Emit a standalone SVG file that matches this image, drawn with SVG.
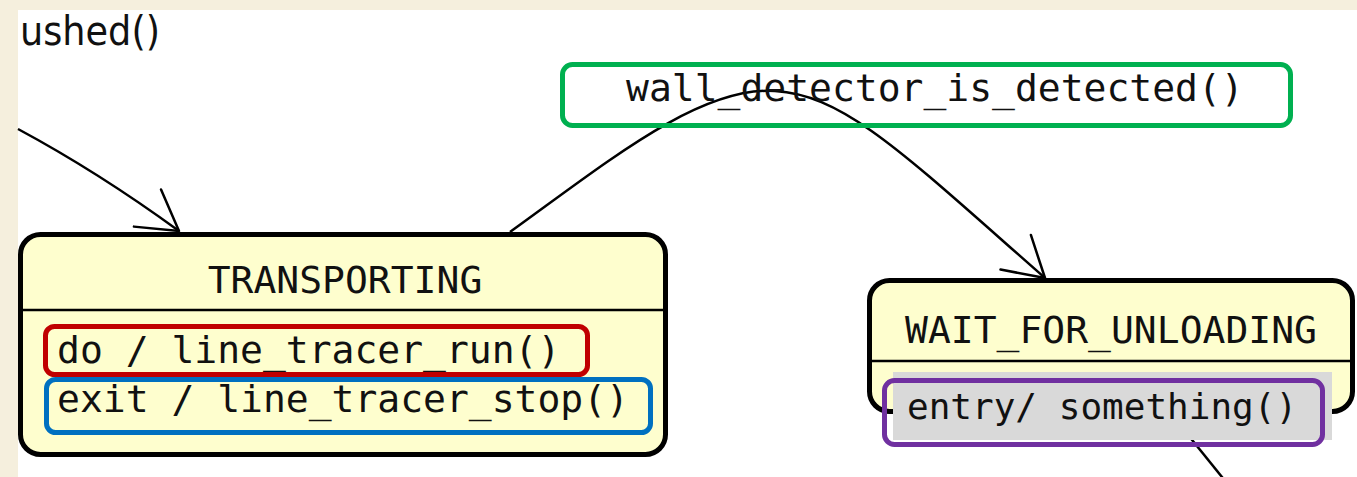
<svg xmlns="http://www.w3.org/2000/svg" width="1357" height="477" viewBox="0 0 1357 477">
  <defs>
    <style>
      .state { fill: #fefece; stroke: #000; stroke-width: 5; }
      .sep { stroke: #000; stroke-width: 2.5; }
      .mono { font-family: "DejaVu Sans Mono", "Liberation Mono", monospace; fill: #111; }
      .title { font-size: 38px; text-anchor: middle; }
      .act { font-size: 38px; }
      .edge { fill: none; stroke: #000; stroke-width: 2.5; }
      .mark { fill: none; stroke-width: 5; }
    </style>
    <filter id="soft" x="-5%" y="-5%" width="110%" height="110%">
      <feGaussianBlur stdDeviation="0.7"/>
    </filter>
    <marker id="open-arrow" markerUnits="userSpaceOnUse" viewBox="-42 -26 46 52" refX="0" refY="0" markerWidth="46" markerHeight="52" orient="auto" overflow="visible">
      <path d="M-39,-23 L0,0 L-39,23" fill="none" stroke="#000" stroke-width="2.5" stroke-linecap="round" stroke-linejoin="round"/>
    </marker>
  </defs>

  <!-- canvas -->
  <rect x="0" y="0" width="1357" height="477" fill="#ffffff"/>
  <!-- window frame -->
  <rect x="0" y="0" width="1357" height="10" fill="#f5efdd"/>
  <rect x="0" y="0" width="18" height="477" fill="#f5efdd"/>

  <!-- state: TRANSPORTING -->
  <g id="node-transporting">
    <rect class="state" x="20.5" y="234.5" width="645" height="220" rx="20" filter="url(#soft)"/>
    <line class="sep" x1="21" y1="310" x2="665" y2="310"/>
    <text class="mono title" x="345" y="293">TRANSPORTING</text>
    <text class="mono act" x="57" y="363">do / line_tracer_run()</text>
    <text class="mono act" x="57" y="412">exit / line_tracer_stop()</text>
  </g>

  <!-- state: WAIT_FOR_UNLOADING -->
  <g id="node-wait-for-unloading">
    <rect class="state" x="869.5" y="280.5" width="483" height="131" rx="20" filter="url(#soft)"/>
    <line class="sep" x1="870" y1="361" x2="1352" y2="361"/>
    <text class="mono title" x="1111" y="343">WAIT_FOR_UNLOADING</text>
  </g>

  <!-- transitions -->
  <g id="connectors">
    <path class="edge" d="M18,129 Q98,172 179,231" marker-end="url(#open-arrow)"/>
    <path class="edge" d="M510,232 C610,160 700,86 775,91 C845,95 905,155 1045,278" marker-end="url(#open-arrow)"/>
    <line class="edge" x1="1180" y1="425" x2="1226" y2="482"/>
  </g>

  <!-- entry action note -->
  <g id="node-entry">
    <rect x="893" y="372" width="439" height="68" fill="#d9d9d9"/>
    <text class="mono" x="907" y="419" font-size="36">entry/ something()</text>
  </g>

  <!-- transition labels -->
  <g id="labels">
    <text x="20" y="45" font-family="'DejaVu Sans', 'Liberation Sans', sans-serif" font-size="40" fill="#111" textLength="140" lengthAdjust="spacingAndGlyphs">ushed()</text>
    <text class="mono act" x="626" y="101">wall_detector_is_detected()</text>
  </g>

  <!-- highlight frames -->
  <g id="highlights">
    <rect class="mark" x="45.5" y="326.5" width="542" height="48" rx="9" stroke="#c00000"/>
    <rect class="mark" x="46.5" y="379.5" width="604" height="53" rx="9" stroke="#0070c0"/>
    <rect class="mark" x="562.5" y="64.5" width="728" height="61" rx="10" stroke="#00b050"/>
    <rect class="mark" x="884.5" y="380.5" width="438" height="64" rx="10" stroke="#7030a0"/>
  </g>
</svg>
